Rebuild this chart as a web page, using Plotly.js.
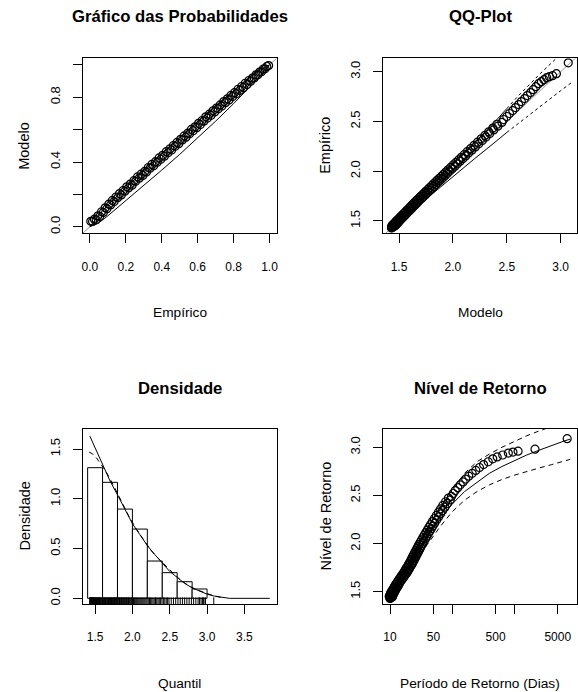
<!DOCTYPE html>
<html><head><meta charset="utf-8">
<script src="https://cdn.plot.ly/plotly-3.0.1.min.js"></script>
<style>html,body{margin:0;padding:0;background:#fff}</style>
</head><body><div id="chart" style="width:578px;height:692px"></div>
<script>
// ---------- Dados ----------
// Gráfico das Probabilidades
const probEmpirica = [0.005,0.015,0.025,0.035,0.045,0.055,0.065,0.075,0.085,0.095,0.105,0.115,0.125,0.135,0.145,0.155,0.165,0.175,0.185,0.195,
 0.205,0.215,0.225,0.235,0.245,0.255,0.265,0.275,0.285,0.295,0.305,0.315,0.325,0.335,0.345,0.355,0.365,0.375,0.385,0.395,
 0.405,0.415,0.425,0.435,0.445,0.455,0.465,0.475,0.485,0.495,0.505,0.515,0.525,0.535,0.545,0.555,0.565,0.575,0.585,0.595,
 0.605,0.615,0.625,0.635,0.645,0.655,0.665,0.675,0.685,0.695,0.705,0.715,0.725,0.735,0.745,0.755,0.765,0.775,0.785,0.795,
 0.805,0.815,0.825,0.835,0.845,0.855,0.865,0.875,0.885,0.895,0.905,0.915,0.925,0.935,0.945,0.955,0.965,0.975,0.985,0.995];
const probModelo = [0.034,0.033,0.047,0.043,0.068,0.064,0.093,0.089,0.117,0.112,0.140,0.135,0.163,0.156,0.184,0.180,0.205,0.197,0.224,0.220,
 0.247,0.240,0.264,0.257,0.285,0.281,0.308,0.300,0.325,0.317,0.342,0.338,0.366,0.361,0.385,0.377,0.402,0.398,0.425,0.417,
 0.441,0.436,0.464,0.457,0.481,0.474,0.502,0.497,0.521,0.513,0.540,0.536,0.561,0.553,0.578,0.574,0.601,0.593,0.617,0.612,
 0.639,0.631,0.656,0.652,0.679,0.671,0.695,0.688,0.716,0.709,0.733,0.728,0.752,0.745,0.773,0.766,0.790,0.783,0.811,0.804,
 0.828,0.821,0.849,0.842,0.866,0.859,0.886,0.878,0.903,0.898,0.918,0.919,0.938,0.938,0.955,0.957,0.974,0.975,0.990,0.995];
const icProbX = [0,0.05,0.1,0.2,0.3,0.4,0.5,0.6,0.7,0.8,0.9,0.95,1];
const icProbInf = [0,0.025,0.068,0.160,0.255,0.350,0.447,0.548,0.652,0.760,0.872,0.932,1];
const icProbSup = [0,0.075,0.135,0.242,0.346,0.449,0.551,0.651,0.748,0.842,0.930,0.968,1];

// Amostra ordenada de excessos (QQ-Plot, nível de retorno, rug)
const amostra = [1.430,1.432,1.435,1.437,1.440,1.443,1.446,1.449,1.452,1.456,1.460,1.464,1.468,1.473,1.478,1.483,1.488,1.494,1.500,1.506,1.512,1.518,1.524,1.531,1.538,1.545,1.552,1.559,1.566,1.574,1.582,1.591,
 1.600,1.607,1.615,1.624,1.631,1.640,1.647,1.657,1.664,1.671,1.681,1.688,1.695,1.705,1.712,1.719,1.729,1.737,1.744,1.751,1.761,1.768,1.777,1.784,1.791,1.798,
 1.808,1.817,1.827,1.836,1.845,1.855,1.864,1.873,1.883,1.892,1.901,1.911,1.920,1.929,1.939,1.948,1.958,1.968,1.979,1.990,
 2.002,2.014,2.026,2.038,2.051,2.063,2.075,2.088,2.101,2.114,2.127,2.140,2.154,2.168,2.182,2.196,
 2.212,2.228,2.244,2.260,2.276,2.292,2.309,2.326,2.343,2.360,2.378,2.396,
 2.415,2.434,2.453,2.472,2.490,
 2.52,2.55,2.58,2.61,2.64,2.67,2.70,2.73,2.76,2.79,2.82,2.85,2.88,2.90,2.92,2.94,2.95,2.96,2.98,3.09];
const quantisModelo = [1.430,1.432,1.434,1.436,1.439,1.441,1.458,1.432,1.463,1.438,1.470,1.445,1.477,1.453,1.485,1.461,1.494,1.471,1.504,1.481,1.515,1.492,1.526,1.504,1.538,1.516,1.551,1.529,1.563,1.543,1.578,1.558,
 1.594,1.572,1.608,1.588,1.622,1.602,1.636,1.617,1.652,1.630,1.667,1.645,1.680,1.661,1.695,1.674,1.712,1.691,1.726,1.704,1.742,1.721,1.757,1.736,1.770,1.749,
 1.787,1.767,1.805,1.785,1.822,1.803,1.840,1.820,1.858,1.838,1.875,1.856,1.893,1.874,1.911,1.892,1.929,1.911,1.949,1.932,
 1.971,1.955,1.994,1.978,2.019,2.002,2.042,2.027,2.067,2.052,2.093,2.078,2.119,2.105,2.146,2.132,
 2.176,2.164,2.208,2.196,2.240,2.228,2.273,2.262,2.307,2.296,2.342,2.332,
 2.379,2.370,2.417,2.408,2.454,
 2.470,2.500,2.525,2.555,2.580,2.610,2.635,2.665,2.690,2.720,2.745,2.770,2.795,2.820,2.845,2.870,2.895,2.925,2.960,3.070];
const icQQx = [1.43,1.6,1.8,2.0,2.2,2.4,2.5,2.6,2.8,3.0,3.1];
const icQQInf = [1.43,1.585,1.765,1.945,2.125,2.30,2.39,2.475,2.645,2.81,2.89];
const icQQSup = [1.43,1.625,1.84,2.06,2.285,2.51,2.63,2.75,2.97,3.18,3.28];

// Densidade
const classes = [1.4,1.6,1.8,2.0,2.2,2.4,2.6,2.8,3.0];
const densHist = [1.313,1.166,0.897,0.696,0.375,0.258,0.167,0.094];
const densX = [1.43,1.5,1.6,1.7,1.8,1.9,2.0,2.1,2.2,2.3,2.4,2.5,2.6,2.7,2.8,2.9,3.0,3.1,3.2,3.24,3.3,3.84];
const densModelo = [1.63,1.51,1.34,1.18,1.04,0.90,0.75,0.64,0.53,0.44,0.35,0.27,0.21,0.15,0.105,0.07,0.042,0.022,0.009,0.004,0,0];
const kernX = [1.42,1.47,1.52,1.56,1.65,1.75,1.85,1.95,2.05,2.15,2.25,2.35,2.45,2.55,2.65,2.75,2.85,2.95,3.05,3.15,3.22];
const kernY = [1.47,1.45,1.41,1.37,1.27,1.13,0.98,0.83,0.70,0.59,0.48,0.40,0.32,0.25,0.18,0.13,0.09,0.06,0.035,0.015,0.005];

// Nível de Retorno (período em dias)
const periodos = [10.0,10.03,10.08,10.12,10.17,10.2,10.9,9.7,11.0,9.8,11.1,10.0,11.2,10.1,11.4,10.2,11.7,10.4,11.9,10.7,12.2,10.9,12.5,11.3,12.8,11.6,13.3,11.9,13.7,12.3,14.1,12.8,
 14.6,13.3,15.2,13.8,15.8,14.4,16.5,15.0,17.2,15.5,17.9,16.2,18.7,16.9,19.3,17.4,20.0,18.0,20.7,18.6,21.4,19.3,22.2,19.9,22.8,20.5,
 23.5,21.2,24.4,22.0,25.2,22.7,26.1,23.5,27.0,24.3,28.0,25.2,28.9,26.1,30.0,27.0,31.1,28.0,32.2,29.1,
 33.7,30.6,35.4,32.1,37.3,33.8,39.1,35.6,41.3,37.7,43.7,39.8,46.1,42.1,48.9,44.7,
 52.2,48.0,56.2,51.7,60.4,55.6,65.2,60.2,70.5,65.0,76.4,70.7,
 83.8,78.3,93.1,87.0,97.3,
 104,112,123,135,150,165,185,210,240,275,320,380,450,530,650,800,950,1150,2150,7079];
const rlT = [10,15.8,25.1,39.8,63.1,100,158,251,398,631,1000,1585,2512,3981,6310,7943];
const rlNivel = [1.43,1.64,1.86,2.07,2.25,2.41,2.54,2.64,2.73,2.80,2.86,2.92,2.97,3.02,3.065,3.085];
const rlSup = [1.45,1.67,1.91,2.15,2.37,2.56,2.73,2.85,2.93,3.00,3.06,3.12,3.17,3.22,3.26,3.28];
const rlInf = [1.42,1.61,1.81,1.99,2.17,2.33,2.45,2.54,2.61,2.665,2.71,2.75,2.785,2.82,2.855,2.875];

// ---------- Estilos ----------
const FH = 'Liberation Sans, Arial, sans-serif';
const pts = {symbol:'circle-open', size:8, color:'black', line:{width:1.2, color:'black'}};
const ln = {color:'black', width:1};
const tracejado = {color:'black', width:1, dash:'5px,4px'};
const pontilhado = {color:'black', width:1, dash:'3px,3px'};

function ax(extra){
  return Object.assign({showline:true, mirror:true, linecolor:'black', linewidth:1,
    ticks:'outside', ticklen:9, tickcolor:'black', tickwidth:1, showgrid:false, zeroline:false,
    tickfont:{family:FH, size:12, color:'black'}, fixedrange:true}, extra);
}
function yax(extra){
  return ax(Object.assign({tickangle:-90, tickfont:{family:FH, size:13, color:'black'}, ticklabelstandoff:8}, extra));
}

const ticksP = [0,0.2,0.4,0.6,0.8,1.0];
const data = [
  // painel 1
  {x:[-0.04,1.04], y:[-0.04,1.04], mode:'lines', line:{color:'#9a9a9a', width:1}, xaxis:'x', yaxis:'y'},
  {x:icProbX, y:icProbInf, mode:'lines', line:ln, xaxis:'x', yaxis:'y'},
  {x:icProbX, y:icProbSup, mode:'lines', line:ln, xaxis:'x', yaxis:'y'},
  {x:probEmpirica, y:probModelo, mode:'markers', marker:pts, xaxis:'x', yaxis:'y'},
  // painel 2
  {x:[1.30,3.20], y:[1.30,3.20], mode:'lines', line:{color:'#9a9a9a', width:1}, xaxis:'x2', yaxis:'y2'},
  {x:icQQx.filter(v=>v<=2.5), y:icQQInf.filter((v,i)=>icQQx[i]<=2.5), mode:'lines', line:ln, xaxis:'x2', yaxis:'y2'},
  {x:icQQx.filter(v=>v>=2.5), y:icQQInf.filter((v,i)=>icQQx[i]>=2.5), mode:'lines', line:pontilhado, xaxis:'x2', yaxis:'y2'},
  {x:icQQx.filter(v=>v<=2.5), y:icQQSup.filter((v,i)=>icQQx[i]<=2.5), mode:'lines', line:ln, xaxis:'x2', yaxis:'y2'},
  {x:icQQx.filter(v=>v>=2.5), y:icQQSup.filter((v,i)=>icQQx[i]>=2.5), mode:'lines', line:pontilhado, xaxis:'x2', yaxis:'y2'},
  {x:quantisModelo, y:amostra, mode:'markers', marker:pts, xaxis:'x2', yaxis:'y2'},
  // painel 3
  {type:'bar', x:densHist.map((v,i)=>(classes[i]+classes[i+1])/2), y:densHist, width:densHist.map((v,i)=>classes[i+1]-classes[i]),
   marker:{color:'white', line:{color:'black', width:1}}, xaxis:'x3', yaxis:'y3'},
  {x:densX, y:densModelo, mode:'lines', line:ln, xaxis:'x3', yaxis:'y3'},
  {x:kernX, y:kernY, mode:'lines', line:tracejado, xaxis:'x3', yaxis:'y3'},
  {x:amostra, y:amostra.map(()=>-0.032), mode:'markers', marker:{symbol:'line-ns-open', size:6, color:'black', line:{width:1, color:'black'}}, xaxis:'x3', yaxis:'y3'},
  // painel 4
  {x:rlT, y:rlSup, mode:'lines', line:tracejado, xaxis:'x4', yaxis:'y4'},
  {x:rlT, y:rlInf, mode:'lines', line:tracejado, xaxis:'x4', yaxis:'y4'},
  {x:rlT, y:rlNivel, mode:'lines', line:ln, xaxis:'x4', yaxis:'y4'},
  {x:periodos, y:amostra, mode:'markers', marker:pts, xaxis:'x4', yaxis:'y4'}
];

function ann(text, x, y, size, opts){
  return Object.assign({text:text, xref:'paper', yref:'paper', x:x, y:y, showarrow:false,
    xanchor:'center', yanchor:'middle', font:{family:FH, size:size, color:'black'}}, opts||{});
}
const W=578, H=692;
const px = v=>v/W, py = v=>1-v/H;
const vert = {textangle:-90};
const annotations = [
  ann('<b>Gráfico das Probabilidades</b>', px(179.7), py(16.5), 16.7),
  ann('<b>QQ-Plot</b>', px(480.3), py(16.5), 16.7),
  ann('<b>Densidade</b>', px(179.7), py(388), 16.7),
  ann('<b>Nível de Retorno</b>', px(480.3), py(388), 16.7),
  ann('Empírico', px(179.7), py(312), 13.7),
  ann('Modelo', px(480.3), py(312), 13.7),
  ann('Quantil', px(179.7), py(683), 13.7),
  ann('Período de Retorno (Dias)', px(480.3), py(683), 13.7),
  ann('Modelo', px(24), py(145.8), 14.5, vert),
  ann('Empírico', px(325), py(145.8), 14.5, vert),
  ann('Densidade', px(24), py(516.5), 14.5, vert),
  ann('Nível de Retorno', px(325), py(516.5), 14.5, vert)
];

const layout = {
  width:W, height:H, margin:{l:0,r:0,t:0,b:0}, paper_bgcolor:'white', plot_bgcolor:'white',
  showlegend:false, bargap:0, font:{family:FH, color:'black'},
  xaxis: ax({domain:[px(82.7),px(276.7)], range:[-0.04,1.04], tickvals:ticksP, ticktext:['0.0','0.2','0.4','0.6','0.8','1.0'], anchor:'y', ticklabelstandoff:13}),
  yaxis: yax({domain:[py(233.3),py(58.3)], range:[-0.04,1.04], tickvals:ticksP, ticktext:['0.0','','0.4','','0.8',''], anchor:'x'}),
  xaxis2: ax({domain:[px(383.3),px(577.3)], range:[1.354,3.154], tickvals:[1.5,2.0,2.5,3.0], ticktext:['1.5','2.0','2.5','3.0'], anchor:'y2', ticklabelstandoff:13}),
  yaxis2: yax({domain:[py(233.3),py(58.3)], range:[1.376,3.135], tickvals:[1.5,2.0,2.5,3.0], ticktext:['1.5','2.0','2.5','3.0'], anchor:'x2'}),
  xaxis3: ax({domain:[px(82.7),px(276.7)], range:[1.334,3.933], tickvals:[1.5,2.0,2.5,3.0,3.5], ticktext:['1.5','2.0','2.5','3.0','3.5'], anchor:'y3', ticklabelstandoff:13}),
  yaxis3: yax({domain:[py(604),py(429)], range:[-0.057,1.702], tickvals:[0,0.5,1.0,1.5], ticktext:['0.0','0.5','1.0','1.5'], anchor:'x3'}),
  xaxis4: ax({domain:[px(383.3),px(577.3)], type:'log', range:[0.892,4.013], tickvals:[10,50,100,500,1000,5000], ticktext:['10','50','','500','','5000'], anchor:'y4', ticklabelstandoff:13}),
  yaxis4: yax({domain:[py(604),py(429)], range:[1.372,3.19], tickvals:[1.5,2.0,2.5,3.0], ticktext:['1.5','2.0','2.5','3.0'], anchor:'x4'}),
  annotations: annotations
};
Plotly.newPlot('chart', data, layout, {displayModeBar:false, staticPlot:true});
</script></body></html>
